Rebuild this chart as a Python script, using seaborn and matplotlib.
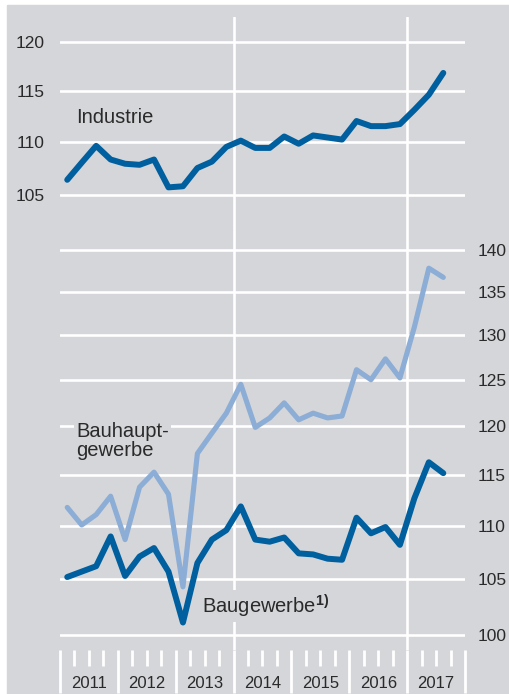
import numpy as np
import pandas as pd
import matplotlib
matplotlib.use("Agg")
import matplotlib.pyplot as plt
from matplotlib.patches import Rectangle
from matplotlib.ticker import NullLocator, NullFormatter
import seaborn as sns

# ----------------------------
# DATA: quarterly values, 2011 Q1 .. 2017 Q3
# ----------------------------
years = ["2011", "2012", "2013", "2014", "2015", "2016", "2017"]

industrie = [106.4, 108.0, 109.6, 108.3, 107.9, 107.8, 108.3, 105.7, 105.8,
             107.5, 108.1, 109.5, 110.1, 109.4, 109.4, 110.5, 109.8, 110.6,
             110.4, 110.2, 112.0, 111.5, 111.5, 111.7, 113.1, 114.6, 116.8]
bauhaupt = [111.8, 110.1, 111.1, 112.9, 108.7, 113.8, 115.3, 113.1, 104.3,
            117.2, 119.3, 121.4, 124.5, 119.9, 120.9, 122.5, 120.7, 121.4,
            120.9, 121.1, 126.1, 125.0, 127.3, 125.2, 130.9, 137.8, 136.7]
baugewerbe = [105.2, 105.7, 106.2, 109.0, 105.3, 107.1, 107.9, 105.7, 101.1,
              106.5, 108.7, 109.6, 111.9, 108.7, 108.5, 108.9, 107.4, 107.3,
              106.9, 106.8, 110.8, 109.3, 109.9, 108.2, 112.7, 116.3, 115.2]

top_ticks = [105, 110, 115, 120]
bottom_ticks = [100, 105, 110, 115, 120, 125, 130, 135, 140]

quarter = np.arange(len(industrie))
df = pd.DataFrame({"q": quarter, "Industrie": industrie,
                   "Bauhauptgewerbe": bauhaupt, "Baugewerbe": baugewerbe})

# ----------------------------
# STYLE
# ----------------------------
BG = "#d5d6d9"
DARK = "#005f9f"
LIGHT = "#8cadd6"
TXT = "#2a2a2a"

sns.set_style("white")
plt.rcParams["font.family"] = ["Liberation Sans", "DejaVu Sans"]
plt.rcParams["mathtext.fontset"] = "custom"
plt.rcParams["mathtext.rm"] = "Liberation Sans"
plt.rcParams["mathtext.bf"] = "Liberation Sans:bold"

W, H = 510, 694
fig = plt.figure(figsize=(W / 100, H / 100), dpi=100)
fig.patches.append(Rectangle((7 / W, 0), 1 - 7 / W, 1 - 5 / H,
                             transform=fig.transFigure, color=BG, zorder=-5))

left, width = 60 / W, 405 / W
ax_top = fig.add_axes([left, 1 - 230 / H, width, 213 / H])
ax_bot = fig.add_axes([left, 1 - 650 / H, width, 420 / H])

for ax in (ax_top, ax_bot):
    ax.set_facecolor("none")
    for s in ax.spines.values():
        s.set_visible(False)
    ax.set_yscale("log")
    ax.set_xlim(-0.5, len(years) * 4 - 0.5)
    ax.yaxis.grid(True, color="white", linewidth=1.9, zorder=1)
    ax.xaxis.grid(False)
    ax.set_axisbelow(True)
    # year-boundary lines at start of 2014 and 2017
    for b in (11.5, 23.5):
        ax.axvline(b, color="white", linewidth=1.9, zorder=1)

# top panel: Industrie
sns.lineplot(data=df, x="q", y="Industrie", ax=ax_top, color=DARK,
             linewidth=4.3, zorder=3)
ax_top.set_ylim(101.84, 122.64)
ax_top.set_yticks(top_ticks, labels=[str(t) for t in top_ticks])
ax_top.yaxis.set_minor_locator(NullLocator())
ax_top.yaxis.set_minor_formatter(NullFormatter())
ax_top.tick_params(axis="y", length=0, pad=11, labelsize=12.5, labelcolor=TXT)
ax_top.set_xticks([])
ax_top.set_xlabel("")
ax_top.set_ylabel("")

# bottom panel: Bauhauptgewerbe + Baugewerbe
sns.lineplot(data=df, x="q", y="Bauhauptgewerbe", ax=ax_bot, color=LIGHT,
             linewidth=3.7, zorder=3)
sns.lineplot(data=df, x="q", y="Baugewerbe", ax=ax_bot, color=DARK,
             linewidth=4.3, zorder=4)
ax_bot.set_ylim(98.70, 142.48)
ax_bot.yaxis.tick_right()
ax_bot.set_yticks(bottom_ticks, labels=[str(t) for t in bottom_ticks])
ax_bot.yaxis.set_minor_locator(NullLocator())
ax_bot.yaxis.set_minor_formatter(NullFormatter())
ax_bot.tick_params(axis="y", length=0, pad=9, labelsize=12.5, labelcolor=TXT)

# x axis: long ticks at year boundaries, short ticks at quarters, year labels
n = len(years) * 4
year_bounds = [i - 0.5 for i in range(0, n + 1, 4)]
q_bounds = [i - 0.5 for i in range(1, n) if i % 4 != 0]
q_labels = [years[(i // 4)] if i % 4 == 2 else "" for i in range(1, n) if i % 4 != 0]
ax_bot.set_xticks(year_bounds, labels=[""] * len(year_bounds))
ax_bot.set_xticks(q_bounds, labels=q_labels, minor=True)
ax_bot.tick_params(axis="x", which="major", bottom=True, length=31, width=2,
                   color="white", direction="out")
ax_bot.tick_params(axis="x", which="minor", bottom=True, length=11.5, width=2,
                   color="white", direction="out", pad=7, labelsize=12,
                   labelcolor=TXT)
ax_bot.set_xlabel("")
ax_bot.set_ylabel("")

# series labels
box = dict(facecolor=BG, edgecolor="none", pad=1.5)
ax_top.text(0.04, 0.53, "Industrie", transform=ax_top.transAxes, fontsize=14.5,
            color=TXT, va="center", ha="left", bbox=box, zorder=2)
ax_bot.text(0.04, 0.543, "Bauhaupt-\ngewerbe", transform=ax_bot.transAxes,
            fontsize=14.5, color=TXT, va="top", ha="left", linespacing=1.0,
            bbox=box, zorder=2)
ax_bot.text(0.35, 0.105, r"Baugewerbe$^{\mathbf{1)}}$", transform=ax_bot.transAxes,
            fontsize=14.5, color=TXT, va="center", ha="left", bbox=box, zorder=2)

fig.savefig("out.png", dpi=100, facecolor="white")
